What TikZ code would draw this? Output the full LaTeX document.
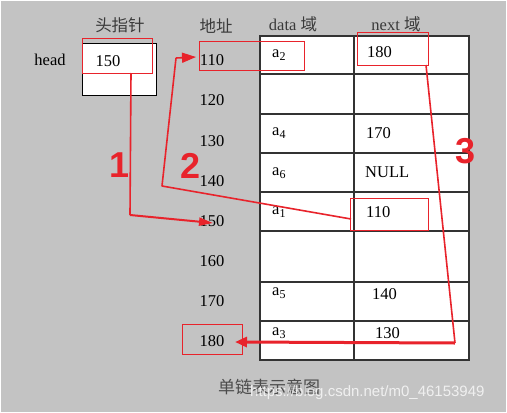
\documentclass[tikz,border=0pt]{standalone}
\usepackage{fontspec}
\setmainfont{Liberation Serif}
\newfontfamily\cjk{Noto Sans CJK SC}
\newfontfamily\lsans{Liberation Sans}
\usetikzlibrary{arrows.meta}
\definecolor{bg}{HTML}{C3C3C3}
\definecolor{rd}{HTML}{E8232B}
\definecolor{hd}{HTML}{3A3A3A}
\newcommand{\sbs}[1]{\raisebox{-3.5pt}{\fontsize{12}{12}\selectfont #1}}
\begin{document}
\begin{tikzpicture}[x=1pt,y=-1pt,
  every node/.style={inner sep=0pt, font=\fontsize{16.5}{18}\selectfont},
  redbox/.style={draw=rd, line width=0.9pt, anchor=north west},
  redline/.style={draw=rd, line width=1.6pt},
  hdr/.style={text=hd, font=\fontsize{16.5}{18}\selectfont},
  numlab/.style={text=rd, font=\lsans\bfseries\fontsize{36}{36}\selectfont},
  grid/.style={draw=black!80, line width=1.2pt}]
\useasboundingbox (0,0) rectangle (507,413);
\fill[white] (0,0) rectangle (507,413);
\fill[bg] (1,1) rectangle (506,412);

% headers
\node[hdr] (hptr) at (120,25) {\cjk 头指针};
\node[hdr] (haddr) at (216,26) {\cjk 地址};
\node[hdr] (hdata) at (293,24) {data {\cjk 域}};
\node[hdr] (hnext) at (396,24) {next {\cjk 域}};

% head pointer box
\node[draw=black, fill=white, line width=1.2pt, minimum width=74pt, minimum height=52pt, anchor=north west] (hbox) at (82,43) {};
\node (head) at (50,60) {head};
\node (hval) at (108,61) {150};

% table
\fill[white] (260,36) rectangle (469,360);
\draw[grid] (260,36) rectangle (469,360);
\foreach \yy in {74,114,153,192,231,282,321} \draw[grid] (260,\yy) -- (469,\yy);
\draw[grid] (354,36) -- (354,360);

% addresses
\node (ad110) at (212,60) {110};
\node (ad120) at (212,100) {120};
\node (ad130) at (212,141) {130};
\node (ad140) at (212,181) {140};
\node (ad150) at (212,221) {150};
\node (ad160) at (212,261) {160};
\node (ad170) at (212,301) {170};
\node (ad180) at (212,341) {180};

% data cells
\node[anchor=west] (d1) at (272,55) {a\sbs{2}};
\node[anchor=west] (d3) at (272,133) {a\sbs{4}};
\node[anchor=west] (d4) at (272,173) {a\sbs{6}};
\node[anchor=west] (d5) at (272,212) {a\sbs{1}};
\node[anchor=west] (d7) at (272,293) {a\sbs{5}};
\node[anchor=west] (d8) at (272,333) {a\sbs{3}};

% next cells
\node[anchor=west] (n1) at (367,52) {180};
\node[anchor=west] (n3) at (366,133) {170};
\node[anchor=west] (n4) at (365,172) {NULL};
\node[anchor=west] (n5) at (366,212) {110};
\node[anchor=west] (n7) at (372,294) {140};
\node[anchor=west] (n8) at (375,333) {130};

% red boxes
\node[redbox, minimum width=70pt, minimum height=35pt] (r150) at (82,38) {};
\node[redbox, minimum width=105pt, minimum height=29pt] (r110) at (199,41) {};
\node[redbox, minimum width=71pt, minimum height=33pt] (r180n) at (357,32) {};
\node[redbox, minimum width=78pt, minimum height=32pt] (r110n) at (350,198) {};
\node[redbox, minimum width=60pt, minimum height=30pt] (r180a) at (182,324) {};

% arrow 1
\coordinate (p1a) at (131,73);
\coordinate (p1b) at (130,215);
\coordinate (p1c) at (213,223);
\draw[redline] (p1a) -- (p1b);
\draw[redline, line width=2pt, -{Triangle[length=14pt,width=8pt]}] (p1b) -- (p1c);

% arrow 2
\coordinate (p2a) at (351,219);
\coordinate (p2b) at (162,186);
\coordinate (p2c) at (176,58);
\coordinate (p2d) at (196,57);
\draw[redline, line join=round] (p2a) -- (p2b) -- (p2c);
\draw[redline, -{Triangle[length=14pt,width=10pt]}] (p2c) -- (p2d);

% arrow 3
\coordinate (p3a) at (426,65);
\coordinate (p3b) at (455,343);
\coordinate (p3c) at (235,342);
\draw[redline] (p3a) -- (p3b);
\draw[redline, line width=3pt, -{Triangle[length=12pt,width=10pt]}] (p3b) -- (p3c);

% step numbers
\node[numlab] (s1) at (120,165) {1};
\node[numlab] (s2) at (191,166) {2};
\node[numlab] (s3) at (466,151) {3};

% caption and watermark
\node[text=black!70, font=\cjk\fontsize{17}{19}\selectfont] (cap) at (269,387) {单链表示意图};
\node[anchor=west, text=white, opacity=0.75, font=\lsans\fontsize{15}{17}\selectfont] (wm) at (250,393) {https://blog.csdn.net/m0\_46153949};
\end{tikzpicture}
\end{document}
